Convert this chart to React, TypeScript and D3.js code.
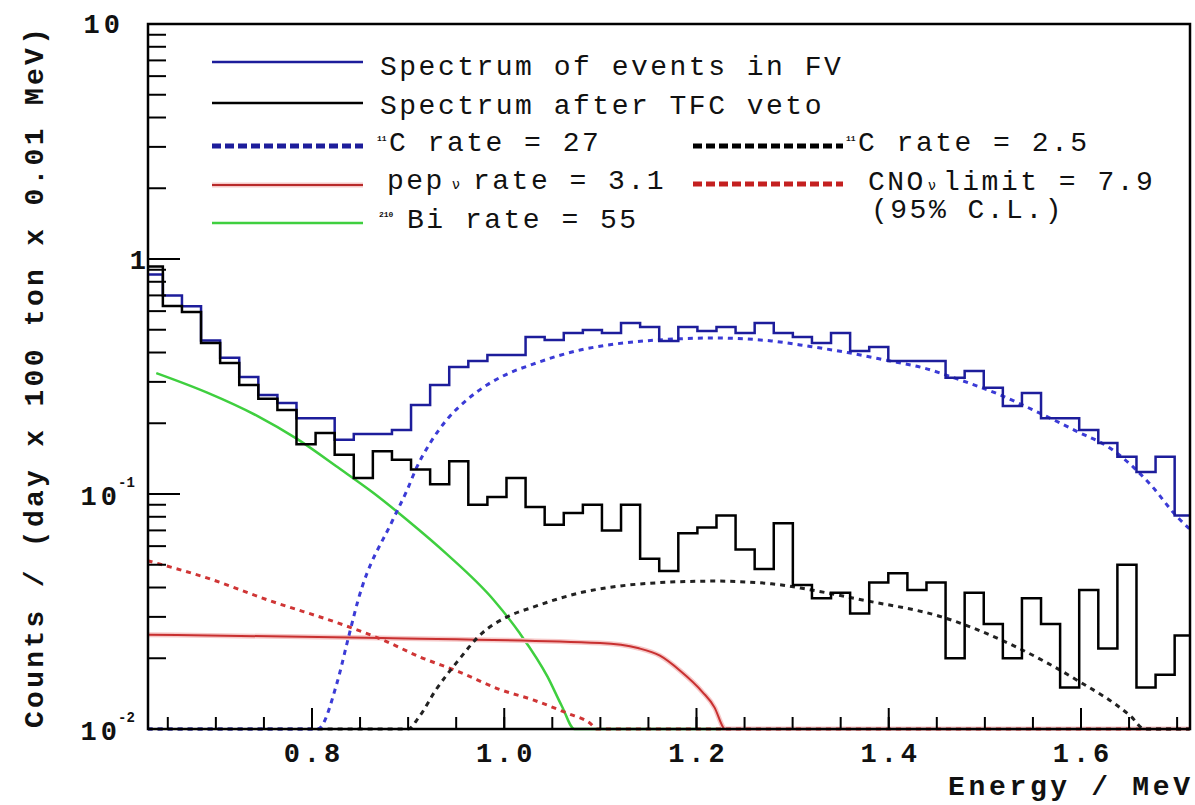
import React from "react";
import * as d3 from "d3";

// histogram binning (MeV)
const binStart = 0.625;
const binWidth = 0.01986;

// Spectrum of events in FV (blue histogram)
const fvCounts = [
  0.86, 0.7, 0.63, 0.45, 0.38, 0.315, 0.264, 0.244, 0.21, 0.21,
  0.17, 0.18, 0.18, 0.187, 0.239, 0.291, 0.347, 0.368, 0.39, 0.39,
  0.466, 0.452, 0.484, 0.499, 0.484, 0.534, 0.514, 0.448, 0.514, 0.494,
  0.514, 0.484, 0.534, 0.484, 0.466, 0.439, 0.484, 0.406, 0.422, 0.368,
  0.368, 0.368, 0.312, 0.334, 0.283, 0.237, 0.269, 0.21, 0.21, 0.187,
  0.165, 0.144, 0.124, 0.144, 0.081,
];

// Spectrum after TFC veto (black histogram)
const tfcCounts = [
  0.93, 0.631, 0.595, 0.439, 0.361, 0.291, 0.254, 0.228, 0.163, 0.182,
  0.147, 0.117, 0.152, 0.14, 0.127, 0.11, 0.138, 0.09, 0.097, 0.117,
  0.088, 0.074, 0.083, 0.09, 0.07, 0.09, 0.053, 0.047, 0.068, 0.072,
  0.081, 0.058, 0.048, 0.075, 0.041, 0.036, 0.038, 0.031, 0.042, 0.046,
  0.039, 0.042, 0.02, 0.038, 0.028, 0.02, 0.036, 0.028, 0.015, 0.039,
  0.022, 0.05, 0.015, 0.017, 0.025,
];

// fitted components: [energy MeV, counts]
const c11Fit = [
  [0.629, 0.01], [0.806, 0.01], [0.826, 0.0157], [0.838, 0.0246], [0.848, 0.0354],
  [0.884, 0.0775], [0.899, 0.104], [0.909, 0.13], [0.923, 0.165], [0.94, 0.2065],
  [0.961, 0.251], [0.982, 0.291], [1.003, 0.324], [1.03, 0.357], [1.055, 0.386],
  [1.079, 0.41], [1.107, 0.43], [1.159, 0.452], [1.218, 0.461], [1.278, 0.448],
  [1.317, 0.425], [1.357, 0.4], [1.396, 0.372], [1.436, 0.344], [1.474, 0.306],
  [1.514, 0.266], [1.553, 0.225], [1.593, 0.187], [1.632, 0.155], [1.672, 0.11],
  [1.7, 0.08], [1.713, 0.071],
];

const c11VetoFit = [
  [0.629, 0.01], [0.9, 0.01], [0.911, 0.0112], [0.929, 0.0147], [0.951, 0.0193],
  [0.977, 0.0256], [1.003, 0.03], [1.03, 0.033], [1.055, 0.0357], [1.079, 0.038],
  [1.107, 0.0399], [1.159, 0.0419], [1.218, 0.0426], [1.278, 0.0415], [1.317, 0.0392],
  [1.376, 0.0352], [1.455, 0.03], [1.533, 0.0223], [1.593, 0.0164], [1.652, 0.0113],
  [1.666, 0.01], [1.713, 0.01],
];

const pepFit = [
  [0.629, 0.0252], [0.873, 0.0244], [1.0996, 0.0232], [1.139, 0.0221], [1.162, 0.0205],
  [1.183, 0.0177], [1.206, 0.0144], [1.219, 0.0123], [1.2275, 0.0102], [1.229, 0.01],
  [1.713, 0.01],
];

const bi210Fit = [
  [0.638, 0.327], [0.691, 0.27], [0.743, 0.215], [0.784, 0.172], [0.829, 0.128],
  [0.864, 0.101], [0.899, 0.0775], [0.94, 0.0556], [0.989, 0.0354], [1.016, 0.0256],
  [1.045, 0.0167], [1.06, 0.0125], [1.073, 0.01], [1.713, 0.01],
];

const cnoFit = [
  [0.629, 0.052], [0.694, 0.0435], [0.754, 0.0354], [0.833, 0.0277], [0.874, 0.0239],
  [0.913, 0.0202], [0.953, 0.0175], [0.996, 0.0147], [1.03, 0.0133], [1.065, 0.0117],
  [1.089, 0.0106], [1.0965, 0.01], [1.713, 0.01],
];

const legendLeft = [
  "Spectrum of events in FV",
  "Spectrum after TFC veto",
];

const xTitle = "Energy / MeV";
const yTitle = "Counts / (day x 100 ton x 0.01 MeV)";

const mono = "'Liberation Mono', 'DejaVu Sans Mono', monospace";

const App = () => {
  const x = d3.scaleLinear().domain([0.6294, 1.7134]).range([148, 1190]);
  const y = d3.scaleLog().domain([0.01, 10]).range([729, 24]);
  const yc = (v: number) => y(Math.max(v, 0.01));

  const histPath = (counts: number[]) => {
    const pts: [number, number][] = counts.map((v, i) => [binStart + i * binWidth, v]);
    pts.push([binStart + counts.length * binWidth, counts[counts.length - 1]]);
    return d3
      .line<[number, number]>()
      .x((d) => x(d[0]))
      .y((d) => yc(d[1]))
      .curve(d3.curveStepAfter)(pts) as string;
  };

  const curve = d3
    .line<number[]>()
    .x((d) => x(d[0]))
    .y((d) => yc(d[1]))
    .curve(d3.curveMonotoneX);

  const xMajor = x.ticks(5);
  const xMinor = x.ticks(20);
  const yAll = y.ticks();
  const yMajor = [0.01, 0.1, 1, 10];
  const fmt = d3.format(".1f");

  const blueHist = "#1d1d9b";
  const blueFit = "#3b3bd6";
  const redFit = "#cf3535";
  const greenFit = "#3fcf3f";

  const lx0 = 212, lx1 = 363, rx0 = 693, rx1 = 843;
  const txt = { fontFamily: mono, fontSize: 28, letterSpacing: 2.5, fill: "#111" } as const;
  const sup = { fontFamily: mono, fontSize: 8, fontWeight: 700, fill: "#111" } as const;
  const nu = { fontFamily: "'DejaVu Sans', sans-serif", fontSize: 14, fill: "#111" } as const;

  return (
    <svg width={1195} height={805} style={{ position: "absolute", left: 0, top: 0, background: "#fff" }}>
      <defs>
        <clipPath id="plot">
          <rect x={148} y={24} width={1042} height={707} />
        </clipPath>
      </defs>

      {/* legend */}
      <line x1={lx0} x2={lx1} y1={62} y2={62} stroke={blueHist} strokeWidth={2.5} />
      <text x={380} y={75} {...txt}>{legendLeft[0]}</text>
      <line x1={lx0} x2={lx1} y1={103} y2={103} stroke="#000" strokeWidth={2.5} />
      <text x={380} y={114} {...txt}>{legendLeft[1]}</text>

      <line x1={lx0} x2={lx1} y1={146} y2={146} stroke={blueHist} strokeWidth={5} strokeDasharray="9 4" />
      <text x={377} y={141} {...sup}>11</text>
      <text x={389} y={151} {...txt}>C rate = 27</text>

      <line x1={lx0} x2={lx1} y1={185} y2={185} stroke="#f6c9c9" strokeWidth={5} />
      <line x1={lx0} x2={lx1} y1={185} y2={185} stroke="#b82a2a" strokeWidth={2} />
      <text x={387} y={189} {...txt}>pep</text>
      <text x={452} y={189} {...nu}>ν</text>
      <text x={473} y={189} {...txt}>rate = 3.1</text>

      <line x1={lx0} x2={lx1} y1={223} y2={223} stroke={greenFit} strokeWidth={2.5} />
      <text x={379} y={217} {...sup}>210</text>
      <text x={407} y={228} {...txt}>Bi rate = 55</text>

      <line x1={rx0} x2={rx1} y1={146} y2={146} stroke="#000" strokeWidth={5} strokeDasharray="9 4" />
      <text x={846} y={141} {...sup}>11</text>
      <text x={858} y={151} {...txt}>C rate = 2.5</text>

      <line x1={rx0} x2={rx1} y1={184} y2={184} stroke="#c42020" strokeWidth={5} strokeDasharray="9 4" />
      <text x={868} y={190} {...txt}>CNO</text>
      <text x={928} y={190} {...nu}>ν</text>
      <text x={943} y={190} {...txt}>limit = 7.9</text>
      <text x={871} y={218} {...txt}>(95% C.L.)</text>

      {/* data */}
      <g clipPath="url(#plot)" fill="none" strokeLinejoin="miter">
        <path d={curve(bi210Fit) as string} stroke={greenFit} strokeWidth={2.5} />
        <path d={curve(pepFit) as string} stroke="#f6c9c9" strokeWidth={5} />
        <path d={curve(pepFit) as string} stroke="#c83030" strokeWidth={2} />
        <path d={curve(cnoFit) as string} stroke={redFit} strokeWidth={3} strokeDasharray="5 5" />
        <path d={curve(c11VetoFit) as string} stroke="#222" strokeWidth={3} strokeDasharray="5 5" />
        <path d={curve(c11Fit) as string} stroke={blueFit} strokeWidth={3} strokeDasharray="5 5" />
        <path d={histPath(fvCounts)} stroke={blueHist} strokeWidth={2.5} />
        <path d={histPath(tfcCounts)} stroke="#000" strokeWidth={2.5} />
      </g>

      {/* frame and ticks */}
      <rect x={148} y={24} width={1042} height={705} fill="none" stroke="#000" strokeWidth={2.5} />
      {xMinor.map((t) => (
        <line key={"xm" + t} x1={x(t)} x2={x(t)} y1={729} y2={717} stroke="#000" strokeWidth={2} />
      ))}
      {xMajor.map((t) => (
        <line key={"xM" + t} x1={x(t)} x2={x(t)} y1={729} y2={708} stroke="#000" strokeWidth={2} />
      ))}
      {yAll.map((t) => (
        <line key={"ym" + t} x1={148} x2={166} y1={y(t)} y2={y(t)} stroke="#000" strokeWidth={2} />
      ))}
      {yMajor.map((t) => (
        <line key={"yM" + t} x1={148} x2={180} y1={y(t)} y2={y(t)} stroke="#000" strokeWidth={2} />
      ))}

      {/* tick labels */}
      {xMajor.map((t) => (
        <text
          key={"xl" + t}
          x={x(t) + 2}
          y={762}
          textAnchor="middle"
          fontFamily={mono}
          fontWeight={700}
          fontSize={27}
          letterSpacing={4}
          fill="#111"
        >
          {fmt(t)}
        </text>
      ))}
      <text x={124} y={y(10) + 9} textAnchor="end" fontFamily={mono} fontWeight={700} fontSize={27} letterSpacing={4} fill="#111">10</text>
      <text x={146} y={y(1) + 10} textAnchor="end" fontFamily={mono} fontWeight={700} fontSize={27} fill="#111">1</text>
      {[0.1, 0.01].map((t, i) => (
        <g key={"yl" + t}>
          <text x={121} y={y(t) + 11} textAnchor="end" fontFamily={mono} fontWeight={700} fontSize={27} letterSpacing={4} fill="#111">10</text>
          <text x={118} y={y(t) - 7} fontFamily={mono} fontWeight={700} fontSize={14} fill="#111">{i === 0 ? "-1" : "-2"}</text>
        </g>
      ))}

      {/* axis titles */}
      <text x={948} y={795} textLength={242} lengthAdjust="spacing" fontFamily={mono} fontWeight={700} fontSize={28} fill="#111">
        {xTitle}
      </text>
      <text
        transform="translate(43,728) rotate(-90)"
        textLength={700}
        lengthAdjust="spacing"
        fontFamily={mono}
        fontWeight={700}
        fontSize={28}
        fill="#111"
      >
        {yTitle}
      </text>
    </svg>
  );
};

export default App;
